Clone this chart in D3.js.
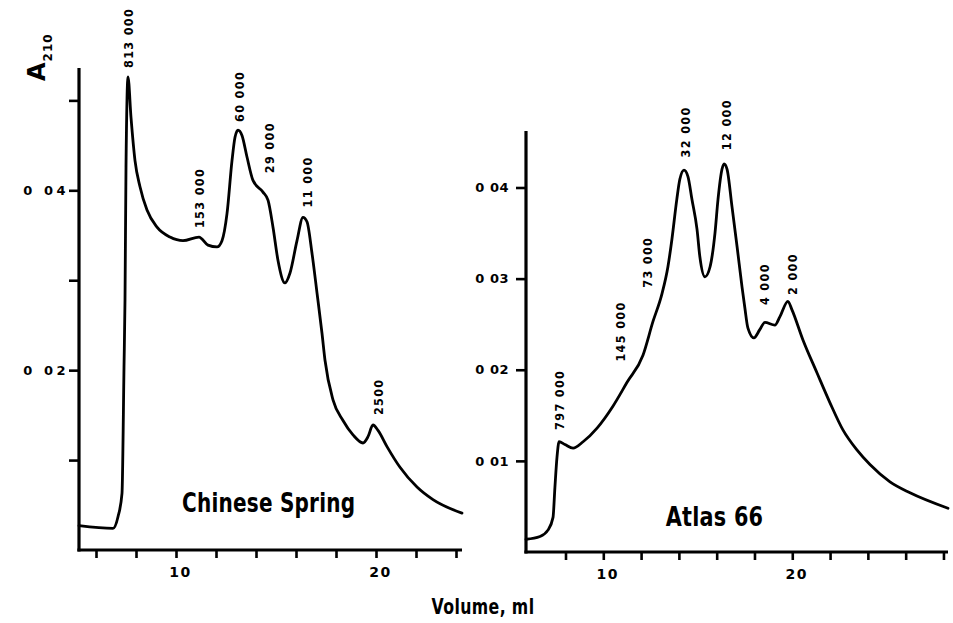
<!DOCTYPE html>
<html>
<head>
<meta charset="utf-8">
<script src="https://cdn.jsdelivr.net/npm/d3@7"></script>
<style>
  html, body { margin: 0; padding: 0; background: #fff; }
  svg { display: block; }
  text { font-family: "DejaVu Sans", sans-serif; font-weight: bold; fill: #000; }
</style>
</head>
<body>
<svg id="chart" width="953" height="623"></svg>
<script>
// Elution profiles (absorbance at 210 nm vs. elution volume, ml)
const csVolume = [5.15, 6.85, 7.1, 7.3, 7.4, 7.45, 7.5, 7.6, 7.75, 7.95, 8.2, 8.55, 9.05, 9.7, 10.35,
  11.15, 11.6, 12.05, 12.3, 12.55, 12.8, 12.95, 13.1, 13.3, 13.55, 13.85, 14.35, 14.6, 14.85, 15.1,
  15.45, 15.7, 16.05, 16.35, 16.55, 16.8, 17.05, 17.3, 17.45, 17.85, 18.35, 18.85, 19.35, 19.6,
  19.85, 20.1, 20.55, 21.2, 22.05, 22.85, 24.3];
const csA210 = [0.0027, 0.0024, 0.0037, 0.0063, 0.0203, 0.0278, 0.0426, 0.0526, 0.0481, 0.0433, 0.0404,
  0.0378, 0.0359, 0.0348, 0.0344, 0.0348, 0.0339, 0.0337, 0.0344, 0.0374, 0.0433, 0.0459, 0.0467,
  0.0461, 0.0437, 0.0411, 0.0398, 0.0389, 0.0359, 0.0322, 0.0297, 0.0308, 0.0344, 0.0370, 0.0365,
  0.0330, 0.0286, 0.0241, 0.0211, 0.0167, 0.0144, 0.0128, 0.0119, 0.0126, 0.0139, 0.0133, 0.0115,
  0.0092, 0.0070, 0.0056, 0.0041];

const atVolume = [5.91, 6.65, 7.07, 7.34, 7.44, 7.55, 7.66, 7.97, 8.4, 8.93, 9.67, 10.51, 11.25, 12.1,
  12.63, 13.1, 13.42, 13.63, 13.89, 14.05, 14.27, 14.48, 14.69, 14.96, 15.11, 15.38, 15.65, 15.91,
  16.07, 16.28, 16.39, 16.55, 16.81, 17.08, 17.34, 17.49, 17.65, 17.97, 18.28, 18.55, 19.08, 19.34,
  19.77, 19.98, 20.56, 21.3, 21.99, 22.68, 23.42, 24.11, 25.17, 26.23, 28.24];
const atA210 = [0.0014, 0.0017, 0.0024, 0.0038, 0.0071, 0.0104, 0.0121, 0.0118, 0.0114, 0.0121, 0.0136,
  0.0160, 0.0186, 0.0216, 0.0253, 0.0283, 0.0313, 0.0343, 0.0387, 0.0409, 0.0419, 0.0412, 0.0387,
  0.0354, 0.0324, 0.0302, 0.0313, 0.0350, 0.0387, 0.0420, 0.0426, 0.0420, 0.0379, 0.0335, 0.0291,
  0.0268, 0.0246, 0.0235, 0.0244, 0.0252, 0.0249, 0.0258, 0.0275, 0.0266, 0.0233, 0.0197, 0.0164,
  0.0134, 0.0112, 0.0096, 0.0077, 0.0065, 0.0048];

// Molecular-weight annotations: text, column volume, A210 where the text begins
const csPeakText = ["813 000", "153 000", "60 000", "29 000", "11 000", "2500"];
const csPeakVol  = [7.6, 11.15, 13.15, 14.65, 16.55, 20.1];
const csPeakA    = [0.0536, 0.0358, 0.0476, 0.0419, 0.0381, 0.0150];

const atPeakText = ["797 000", "145 000", "73 000", "32 000", "12 000", "4 000", "2 000"];
const atPeakVol  = [7.66, 10.88, 12.31, 14.32, 16.49, 18.5, 19.98];
const atPeakA    = [0.0134, 0.0209, 0.0290, 0.0433, 0.0441, 0.0271, 0.0282];

// Axis ticks
const csYTicks = [0.01, 0.02, 0.03, 0.04, 0.05];
const csYLabels = [0.02, 0.04];
const atYTicks = [0.01, 0.02, 0.03, 0.04];
const atYLabels = [0.01, 0.02, 0.03, 0.04];
const csXTicks = [6, 8, 10, 12, 14, 16, 18, 20, 22, 24];
const atXTicks = [8, 10, 12, 14, 16, 18, 20, 22, 24, 26, 28];
const xLabels = [10, 20];

const svg = d3.select("#chart");

function panel(opt) {
  const x = d3.scaleLinear().domain(opt.xDomain).range(opt.xRange);
  const y = d3.scaleLinear().domain(opt.yDomain).range(opt.yRange);
  const g = svg.append("g");
  const fmtY = d => opt.yLabels.includes(d) ? d.toFixed(2).replace(".", " ") : "";
  const fmtX = d => xLabels.includes(d) ? String(d) : "";

  // y axis
  const ya = g.append("g")
    .attr("transform", `translate(${opt.xRange[0]},0)`)
    .call(d3.axisLeft(y).tickValues(opt.yTicks).tickFormat(fmtY).tickSize(10).tickSizeOuter(0).tickPadding(opt.yPad));
  ya.select(".domain").remove();
  ya.selectAll(".tick line").attr("stroke", "#000").attr("stroke-width", 2.6);
  ya.selectAll(".tick text").style("font-size", "13px").style("letter-spacing", opt.ySpacing);
  g.append("line")
    .attr("x1", opt.xRange[0]).attr("x2", opt.xRange[0])
    .attr("y1", opt.yRange[0] + 1.5).attr("y2", opt.yRange[1])
    .attr("stroke", "#000").attr("stroke-width", 3.2);

  // x axis
  const xa = g.append("g")
    .attr("transform", `translate(0,${opt.yRange[0]})`)
    .call(d3.axisBottom(x).tickValues(opt.xTicks).tickFormat(fmtX).tickSize(8).tickSizeOuter(0).tickPadding(9));
  xa.select(".domain").remove();
  xa.selectAll(".tick line").attr("stroke", "#000").attr("stroke-width", 2.6);
  xa.selectAll(".tick text").style("font-size", "14px").style("letter-spacing", "1.5px").attr("dx", "4");
  g.append("line")
    .attr("x1", opt.xRange[0] - 1.6).attr("x2", opt.xRange[1])
    .attr("y1", opt.yRange[0]).attr("y2", opt.yRange[0])
    .attr("stroke", "#000").attr("stroke-width", 3.2);

  // elution curve
  const pts = opt.vol.map((v, i) => [v, opt.a[i]]);
  g.append("path")
    .datum(pts)
    .attr("fill", "none").attr("stroke", "#000").attr("stroke-width", 2.8)
    .attr("stroke-linejoin", "round").attr("stroke-linecap", "round")
    .attr("d", d3.line().x(d => x(d[0])).y(d => y(d[1])).curve(d3.curveMonotoneX));

  // peak annotations, vertical, narrowed along the text direction
  g.selectAll("text.mw")
    .data(opt.peakText)
    .join("text")
    .attr("class", "mw")
    .attr("transform", (d, i) => `translate(${x(opt.peakVol[i])},${y(opt.peakA[i])}) rotate(-90) scale(0.86,1)`)
    .attr("dy", "0.36em")
    .style("font-size", "13px")
    .style("letter-spacing", "1.6px")
    .text(d => d);

  // cultivar name, condensed
  g.append("text")
    .attr("transform", `translate(${x(opt.nameVol)},${y(opt.nameA)}) scale(${opt.nameScale},1)`)
    .style("font-size", "26px")
    .style("letter-spacing", "0.3px")
    .text(opt.name);
}

panel({
  xDomain: [5.15, 24.3], xRange: [79, 462],
  yDomain: [0, 0.0536], yRange: [550, 68],
  yTicks: csYTicks, yLabels: csYLabels, xTicks: csXTicks,
  yPad: 0, ySpacing: "3.5px",
  vol: csVolume, a: csA210,
  peakText: csPeakText, peakVol: csPeakVol, peakA: csPeakA,
  name: "Chinese Spring", nameVol: 10.3, nameA: 0.0042, nameScale: 0.77
});

panel({
  xDomain: [5.91, 28.24], xRange: [526, 948],
  yDomain: [0, 0.0462], yRange: [552, 131],
  yTicks: atYTicks, yLabels: atYLabels, xTicks: atXTicks,
  yPad: 7, ySpacing: "0.5px",
  vol: atVolume, a: atA210,
  peakText: atPeakText, peakVol: atPeakVol, peakA: atPeakA,
  name: "Atlas 66", nameVol: 13.3, nameA: 0.0029, nameScale: 0.8
});

// Y-axis title: A with subscript 210, reading upward
const yt = svg.append("text")
  .attr("transform", "translate(45,81) rotate(-90)");
yt.append("tspan").style("font-size", "24px").text("A");
yt.append("tspan").style("font-size", "12px").attr("dy", "7").attr("dx", "1").style("letter-spacing", "1px").text("210");

// X-axis title
svg.append("text")
  .attr("transform", `translate(483,614) scale(0.75,1)`)
  .attr("text-anchor", "middle")
  .style("font-size", "21px")
  .style("letter-spacing", "0.5px")
  .text("Volume, ml");
</script>
</body>
</html>
